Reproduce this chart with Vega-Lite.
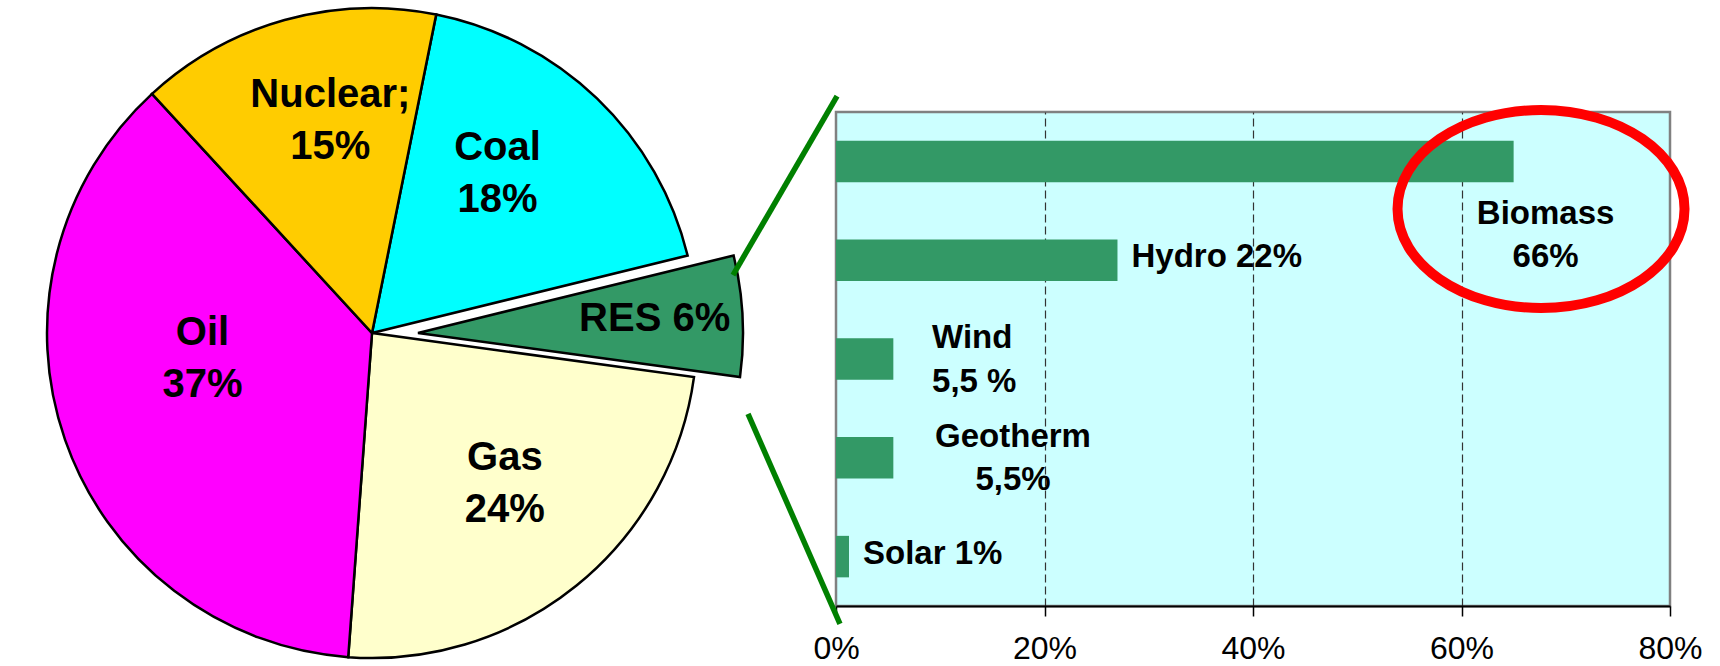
{
  "$schema": "https://vega.github.io/schema/vega-lite/v6.json",
  "padding": 0,
  "background": "white",
  "bounds": "flush",
  "spacing": 92,
  "config": {"view": {"stroke": null}, "font": "Liberation Sans"},
  "hconcat": [
    {
      "width": 744,
      "height": 666,
      "data": {"values": [
        {"source": "Coal", "value": 18, "ord": 1, "label": "Coal\n18%"},
        {"source": "RES", "value": 6, "ord": 2, "label": "RES 6%"},
        {"source": "Gas", "value": 24, "ord": 3, "label": "Gas\n24%"},
        {"source": "Oil", "value": 37, "ord": 4, "label": "Oil\n37%"},
        {"source": "Nuclear", "value": 15, "ord": 5, "label": "Nuclear;\n15%"}
      ]},
      "encoding": {
        "theta": {"field": "value", "type": "quantitative", "stack": true, "scale": {"domain": [0, 100], "range": [0.199, 6.482]}},
        "order": {"field": "ord", "type": "quantitative"}
      },
      "layer": [
        {
          "mark": {"type": "arc", "outerRadius": 325, "stroke": "black", "strokeWidth": 2.5},
          "encoding": {
            "color": {"field": "source", "type": "nominal", "scale": {"domain": ["Coal", "RES", "Gas", "Oil", "Nuclear"], "range": ["#00FFFF", "#339966", "#FFFFCC", "#FF00FF", "#FFCC00"]}, "legend": null},
            "opacity": {"condition": {"test": "datum.source === 'RES'", "value": 0}, "value": 1}
          }
        },
        {
          "mark": {"type": "arc", "outerRadius": 325, "stroke": "black", "strokeWidth": 2.5, "xOffset": 46},
          "encoding": {
            "color": {"field": "source", "type": "nominal", "scale": {"domain": ["Coal", "RES", "Gas", "Oil", "Nuclear"], "range": ["#00FFFF", "#339966", "#FFFFCC", "#FF00FF", "#FFCC00"]}, "legend": null},
            "opacity": {"condition": {"test": "datum.source === 'RES'", "value": 1}, "value": 0}
          }
        },
        {
          "mark": {"type": "text", "radius": 218, "dx": 17, "dy": -28, "fontSize": 40, "fontWeight": "bold", "lineBreak": "\n", "lineHeight": 52, "align": "center", "baseline": "middle", "color": "black"},
          "encoding": {"text": {"condition": {"test": "datum.source === 'Nuclear'", "field": "label", "type": "nominal"}, "value": ""}}
        },
        {
          "mark": {"type": "text", "radius": 203, "dx": -15, "dy": -38, "fontSize": 40, "fontWeight": "bold", "lineBreak": "\n", "lineHeight": 52, "align": "center", "baseline": "middle", "color": "black"},
          "encoding": {"text": {"condition": {"test": "datum.source === 'Coal'", "field": "label", "type": "nominal"}, "value": ""}}
        },
        {
          "mark": {"type": "text", "radius": 171, "dx": -8, "dy": -56, "fontSize": 40, "fontWeight": "bold", "lineBreak": "\n", "lineHeight": 52, "align": "center", "baseline": "middle", "color": "black"},
          "encoding": {"text": {"condition": {"test": "datum.source === 'Oil'", "field": "label", "type": "nominal"}, "value": ""}}
        },
        {
          "mark": {"type": "text", "radius": 200, "dx": 7, "dy": -30, "fontSize": 40, "fontWeight": "bold", "lineBreak": "\n", "lineHeight": 52, "align": "center", "baseline": "middle", "color": "black"},
          "encoding": {"text": {"condition": {"test": "datum.source === 'Gas'", "field": "label", "type": "nominal"}, "value": ""}}
        },
        {
          "mark": {"type": "text", "radius": 237, "xOffset": 46, "dx": 0, "dy": -2, "fontSize": 40, "fontWeight": "bold", "align": "center", "baseline": "middle", "color": "black"},
          "encoding": {"text": {"condition": {"test": "datum.source === 'RES'", "field": "label", "type": "nominal"}, "value": ""}}
        }
      ]
    },
    {
      "bounds": "flush",
      "spacing": 0,
      "vconcat": [
        {
          "width": 834,
          "height": 112,
          "data": {"values": [{}]},
          "mark": {"type": "point", "opacity": 0},
          "encoding": {}
        },
        {
          "width": 834,
          "height": 494,
          "view": {"fill": "#CCFFFF", "stroke": "#808080", "strokeWidth": 2.5},
          "resolve": {"scale": {"y": "independent", "x": "independent"}},
          "layer": [
            {
              "data": {"values": [
                {"source": "Biomass", "pct": 65, "label": "Biomass\n66%"},
                {"source": "Hydro", "pct": 27, "label": "Hydro 22%"},
                {"source": "Wind", "pct": 5.5, "label": "Wind\n5,5 %"},
                {"source": "Geotherm", "pct": 5.5, "label": "Geotherm\n5,5%"},
                {"source": "Solar", "pct": 1.25, "label": "Solar 1%"}
              ]},
              "encoding": {
                "x": {
                  "field": "pct", "type": "quantitative",
                  "scale": {"domain": [0, 80], "nice": false},
                  "axis": {
                    "values": [0, 20, 40, 60, 80],
                    "labelExpr": "datum.value + '%'",
                    "title": null,
                    "labelFont": "Liberation Sans",
                    "labelFontSize": 32,
                    "labelColor": "black",
                    "labelPadding": 17,
                    "labelFlush": false,
                    "labelOverlap": false,
                    "tickSize": 10,
                    "tickColor": "black",
                    "tickWidth": 1.5,
                    "domainColor": "black",
                    "domainWidth": 2,
                    "grid": true,
                    "gridColor": "#333333",
                    "gridDash": [8, 4],
                    "gridWidth": 1.2,
                    "gridOpacity": {"condition": {"test": "datum.value === 0 || datum.value === 80", "value": 0}, "value": 1}
                  }
                },
                "y": {
                  "field": "source", "type": "nominal",
                  "scale": {"domain": ["Biomass", "Hydro", "Wind", "Geotherm", "Solar"], "paddingInner": 0.58, "paddingOuter": 0.29},
                  "axis": null
                }
              },
              "layer": [
                {"mark": {"type": "bar", "color": "#339966"}},
                {
                  "transform": [{"filter": "datum.source === 'Biomass'"}],
                  "mark": {"type": "text", "align": "center", "baseline": "alphabetic", "dx": 32, "dy": 62.6, "fontSize": 33, "fontWeight": "bold", "lineBreak": "\n", "lineHeight": 43, "color": "black"},
                  "encoding": {"text": {"field": "label", "type": "nominal"}}
                },
                {
                  "transform": [{"filter": "datum.source === 'Hydro'"}],
                  "mark": {"type": "text", "align": "left", "baseline": "alphabetic", "dx": 14, "dy": 6.8, "fontSize": 33, "fontWeight": "bold", "color": "black"},
                  "encoding": {"text": {"field": "label", "type": "nominal"}}
                },
                {
                  "transform": [{"filter": "datum.source === 'Wind'"}],
                  "mark": {"type": "text", "align": "left", "baseline": "alphabetic", "dx": 38.7, "dy": -11, "fontSize": 33, "fontWeight": "bold", "lineBreak": "\n", "lineHeight": 44, "color": "black"},
                  "encoding": {"text": {"field": "label", "type": "nominal"}}
                },
                {
                  "transform": [{"filter": "datum.source === 'Geotherm'"}],
                  "mark": {"type": "text", "align": "center", "baseline": "alphabetic", "dx": 119.7, "dy": -10.8, "fontSize": 33, "fontWeight": "bold", "lineBreak": "\n", "lineHeight": 43, "color": "black"},
                  "encoding": {"text": {"field": "label", "type": "nominal"}}
                },
                {
                  "transform": [{"filter": "datum.source === 'Solar'"}],
                  "mark": {"type": "text", "align": "left", "baseline": "alphabetic", "dx": 14, "dy": 7.4, "fontSize": 33, "fontWeight": "bold", "color": "black"},
                  "encoding": {"text": {"field": "label", "type": "nominal"}}
                },
                {
                  "transform": [{"filter": "datum.source === 'Biomass'"}],
                  "mark": {"type": "point", "shape": "M -1 0 A 1 0.69 0 1 1 1 0 A 1 0.69 0 1 1 -1 0 Z", "size": 82369, "filled": false, "stroke": "#FF0000", "strokeWidth": 10, "opacity": 1, "xOffset": 27.4, "yOffset": 47.6}
                }
              ]
            },
            {
              "data": {"values": [{}]},
              "layer": [
                {
                  "mark": {"type": "rule", "color": "#008000", "strokeWidth": 5.5, "strokeCap": "butt"},
                  "encoding": {
                    "x": {"datum": -9.88, "type": "quantitative", "scale": {"domain": [0, 80], "nice": false}, "axis": null},
                    "x2": {"datum": 0.1},
                    "y": {"datum": 67.0, "type": "quantitative", "scale": {"domain": [0, 100], "nice": false}, "axis": null},
                    "y2": {"datum": 103.2}
                  }
                },
                {
                  "mark": {"type": "rule", "color": "#008000", "strokeWidth": 5.5, "strokeCap": "butt"},
                  "encoding": {
                    "x": {"datum": -8.44, "type": "quantitative", "scale": {"domain": [0, 80], "nice": false}, "axis": null},
                    "x2": {"datum": 0.38},
                    "y": {"datum": 38.9, "type": "quantitative", "scale": {"domain": [0, 100], "nice": false}, "axis": null},
                    "y2": {"datum": -3.6}
                  }
                }
              ]
            }
          ]
        }
      ]
    }
  ]
}
